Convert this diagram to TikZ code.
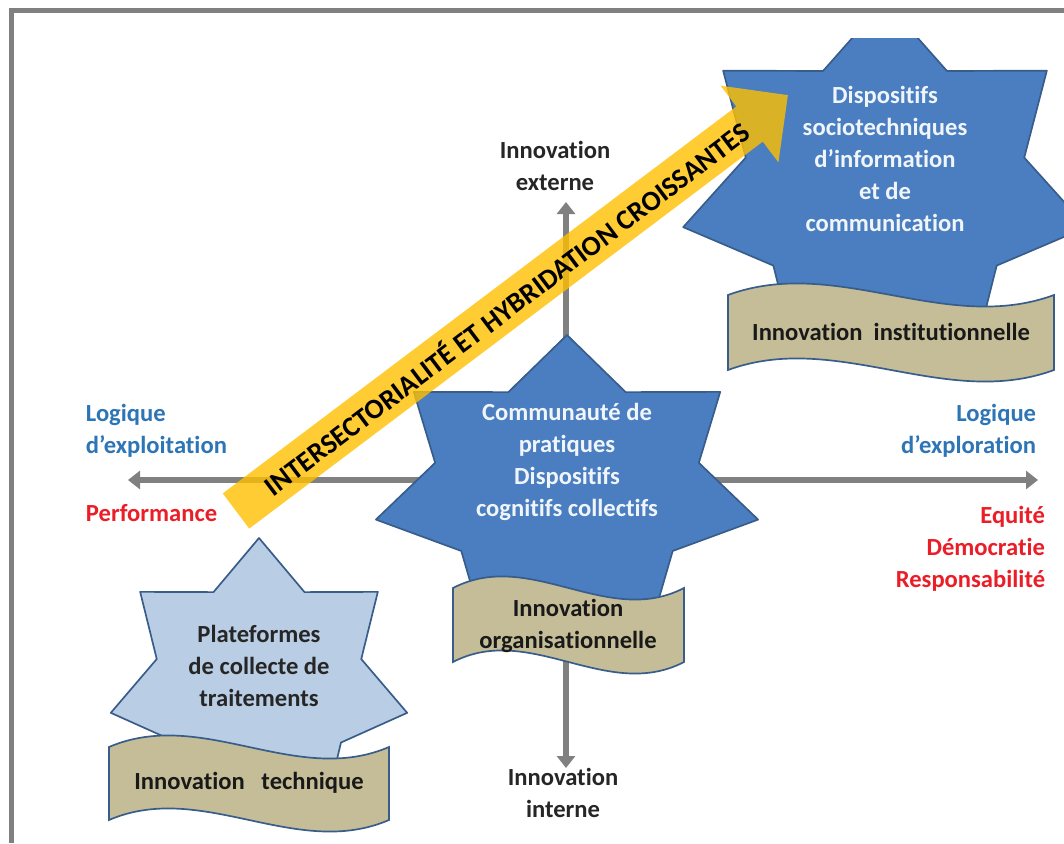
\documentclass[tikz,border=0pt]{standalone}
\usepackage{fontspec}
\setmainfont{Carlito}[Ligatures=NoCommon]
\usetikzlibrary{arrows.meta}

\definecolor{starblue}{RGB}{74,126,193}
\definecolor{starline}{RGB}{56,93,138}
\definecolor{palestar}{RGB}{185,205,229}
\definecolor{bannertan}{RGB}{196,189,151}
\definecolor{axisgray}{RGB}{128,128,128}
\definecolor{logicblue}{RGB}{46,117,182}
\definecolor{valuered}{RGB}{235,30,40}
\definecolor{bandgold}{RGB}{255,192,0}

\newcommand{\lblfont}{\fontsize{17.5}{22.8}\selectfont\bfseries}

% 7-point star: #1 options, (#2,#3) centre, #4/#5 radii
\newcommand{\heptastar}[5]{%
  \path[#1] plot[samples at={0,...,13}]
    ({#2+#4*(1-0.31*mod(\x,2))*cos(90+\x*360/14)},
     {#3-#5*(1-0.31*mod(\x,2))*sin(90+\x*360/14)}) -- cycle;}

% wavy banner: (#1,#2) top left corner, #3 width, #4 height
\newcommand{\wavebanner}[4]{%
  \path[banner] (#1,#2) .. controls ({#1+#3/3},{#2-40}) and ({#1+2*#3/3},{#2+40}) .. ({#1+#3},#2)
    -- ({#1+#3},{#2+#4}) .. controls ({#1+2*#3/3},{#2+#4+40}) and ({#1+#3/3},{#2+#4-40}) .. (#1,{#2+#4}) -- cycle;}

\tikzset{
  axis/.style={line width=1.5mm, draw=axisgray, {Triangle[length=3mm,width=4.5mm]}-{Triangle[length=3mm,width=4.5mm]}},
  bigstar/.style={fill=starblue, draw=starline, line width=1.2pt, line join=round},
  smallstar/.style={fill=palestar, draw=starline, line width=1.2pt, line join=round},
  banner/.style={fill=bannertan, draw=starline, line width=1.2pt},
  startext/.style={align=center, font=\lblfont, text=white!92!starblue},
  bannertext/.style={align=center, font=\lblfont, text=black!90},
  axislbl/.style={align=center, font=\lblfont, text=black!85},
  logic/.style={font=\lblfont, text=logicblue},
  value/.style={font=\lblfont, text=valuered},
  band/.style={fill=bandgold, fill opacity=0.8},
  bandtext/.style={font=\fontsize{20}{24}\selectfont\bfseries, text=black, inner sep=0pt}
}

\begin{document}
\begin{tikzpicture}[x=0.25mm, y=-0.25mm]
  \useasboundingbox (0,0) rectangle (1064,843);
  \fill[white] (0,0) rectangle (1064,843);

  % frame
  \draw[line width=1.25mm, draw=axisgray] (11.5,843) |- (1064,10.5);

  % axes
  \coordinate (west) at (128,480);
  \coordinate (east) at (1038,480);
  \coordinate (top) at (566,202);
  \coordinate (bottom) at (566,768);
  \draw[axis] (west) -- (east);
  \draw[axis] (bottom) -- (top);

  \node[axislbl] (externe) at (555,166) {Innovation\\externe};
  \node[axislbl] (interne) at (563,793) {Innovation\\interne};
  \node[logic, anchor=west, align=left] (exploitation) at (81,431) {Logique\\d’exploitation};
  \node[logic, anchor=east, align=right] (exploration) at (1041,431) {Logique\\d’exploration};
  \node[value, anchor=west] (performance) at (81,513) {Performance};
  \node[value, anchor=east, align=right] (equite) at (1050,549) {Equité\\Démocratie\\Responsabilité};

  % stars
  \begin{scope}
    \clip (0,38) rectangle (1064,843);
    \heptastar{bigstar}{885}{186}{207}{185}
  \end{scope}
  \heptastar{bigstar}{567}{486}{196}{151}
  \heptastar{smallstar}{259}{681}{152}{143}

  % banners
  \wavebanner{728}{295}{326}{75}
  \wavebanner{453}{588}{231}{74}
  \wavebanner{109}{747}{280}{73}

  \node[startext] (dispositifs) at (885,159) {Dispositifs\\sociotechniques\\d’information\\et de\\communication};
  \node[startext] (communaute) at (567,462) {Communauté de\\pratiques\\Dispositifs\\cognitifs collectifs};
  \node[startext, text=black!85] (plateformes) at (259,666) {Plateformes\\de collecte de\\traitements};

  \node[bannertext] (institutionnelle) at (891,332) {Innovation\ \ institutionnelle};
  \node[bannertext] (organisationnelle) at (568,626) {Innovation\\organisationnelle};
  \node[bannertext] (technique) at (249,783) {Innovation\ \ \ technique};

  % yellow arrow
  \begin{scope}[shift={(236,511)}, rotate=37]
    \fill[band] (0,-22) -- (643,-22) -- (643,-48) -- (691,0) -- (643,48) -- (643,22) -- (0,22) -- cycle;
    \node[bandtext, rotate=37] (hybridation) at (338,0) {INTERSECTORIALITÉ ET HYBRIDATION CROISSANTES};
  \end{scope}
\end{tikzpicture}
\end{document}
